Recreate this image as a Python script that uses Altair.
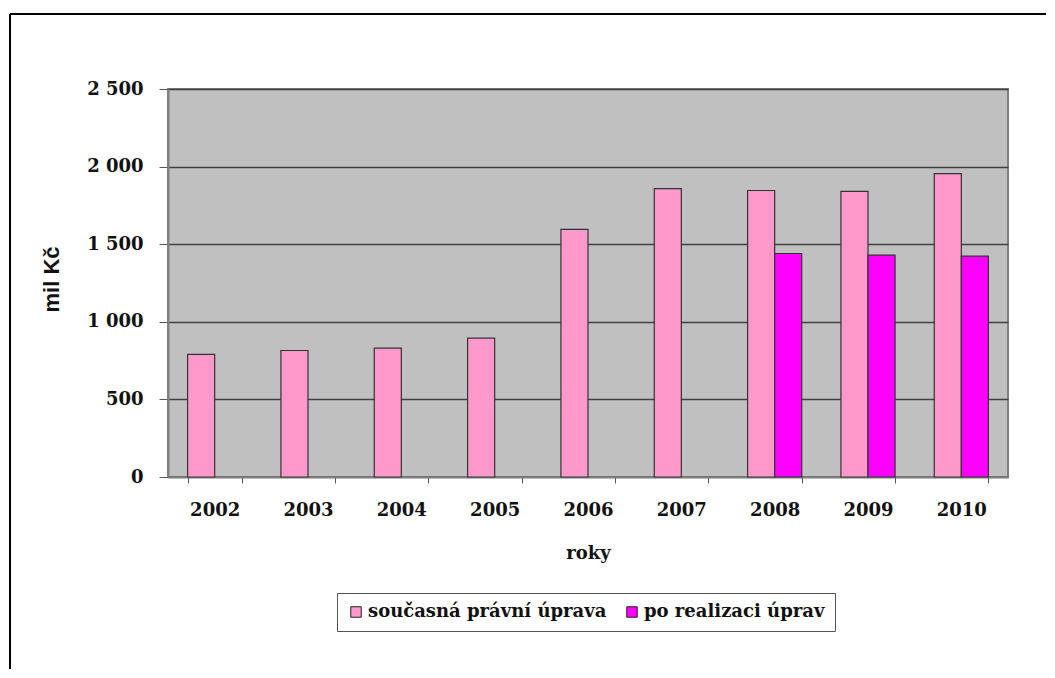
import altair as alt
import pandas as pd

years = ["2002", "2003", "2004", "2005", "2006", "2007", "2008", "2009", "2010"]
series_names = ["současná právní úprava", "po realizaci úprav"]
current_values = [790, 815, 830, 895, 1595, 1858, 1846, 1840, 1955]
after_values = [None, None, None, None, None, None, 1440, 1430, 1423]
series_colors = ["#FF99CC", "#FF00FF"]

rows = []
for i, y in enumerate(years):
    rows.append({"rok": y, "serie": series_names[0], "hodnota": current_values[i]})
    rows.append({"rok": y, "serie": series_names[1], "hodnota": after_values[i]})
df = pd.DataFrame(rows)

SERIF = "DejaVu Serif"

bars = alt.Chart(df).mark_bar(stroke="#333333", strokeWidth=1.2).encode(
    x=alt.X(
        "rok:N",
        sort=years,
        scale=alt.Scale(paddingInner=0.42, paddingOuter=0.21),
        axis=alt.Axis(
            title="roky",
            labelAngle=0,
            labelFont=SERIF,
            labelFontWeight="bold",
            labelFontSize=18,
            labelColor="#111111",
            labelPadding=18,
            tickBand="extent",
            tickSize=6,
            tickColor="#555555",
            domainColor="#808080",
            domainWidth=1.5,
            titleFont=SERIF,
            titleFontWeight="bold",
            titleFontSize=18,
            titleColor="#111111",
            titlePadding=25,
            grid=False,
        ),
    ),
    xOffset=alt.XOffset("serie:N", sort=series_names,
                        scale=alt.Scale(domain=series_names, paddingInner=0, paddingOuter=0)),
    y=alt.Y(
        "hodnota:Q",
        scale=alt.Scale(domain=[0, 2500], nice=False),
        axis=alt.Axis(
            title="mil Kč",
            values=[0, 500, 1000, 1500, 2000, 2500],
            labelExpr="replace(format(datum.value, ','), ',', ' ')",
            labelFont=SERIF,
            labelFontWeight="bold",
            labelFontSize=18,
            labelColor="#111111",
            labelPadding=16,
            tickSize=9,
            tickColor="#555555",
            domainColor="#808080",
            domainWidth=2,
            gridColor="#404040",
            gridWidth=1.5,
            titleFont="Liberation Sans",
            titleFontWeight="bold",
            titleFontSize=22,
            titleColor="#111111",
            titleAngle=270,
            titleX=-117,
            titleY=190,
            titleAlign="center",
            titleBaseline="middle",
        ),
    ),
    color=alt.Color(
        "serie:N",
        sort=series_names,
        scale=alt.Scale(domain=series_names, range=series_colors),
        legend=alt.Legend(
            title=None,
            orient="none",
            direction="horizontal",
            legendX=169,
            legendY=504,
            labelFont=SERIF,
            labelFontWeight="bold",
            labelFontSize=18,
            labelColor="#111111",
            labelLimit=0,
            symbolType="square",
            symbolSize=110,
            symbolStrokeColor="#222222",
            symbolStrokeWidth=1,
            symbolOpacity=1,
            labelOffset=3,
            columnPadding=16,
            padding=10,
            strokeColor="#555555",
            fillColor="white",
        ),
    ),
)

frame_top = alt.Chart(alt.Data(values=[{"a": 1}])).mark_rule(color="black", strokeWidth=2).encode(
    x=alt.value(-158), x2=alt.value(890), y=alt.value(-75)
)
frame_left = alt.Chart(alt.Data(values=[{"a": 1}])).mark_rule(color="black", strokeWidth=2).encode(
    x=alt.value(-158), y=alt.value(-75), y2=alt.value(620)
)

chart = alt.layer(bars, frame_top, frame_left).properties(
    width=840,
    height=388,
    autosize=alt.AutoSizeParams(type="none"),
    padding={"left": 160, "top": 81, "right": 38, "bottom": 192},
    background="white",
).configure_view(
    fill="#C0C0C0",
    stroke="#808080",
    strokeWidth=2,
)

chart.save("out.html", embed_options={"renderer": "svg", "actions": False})
